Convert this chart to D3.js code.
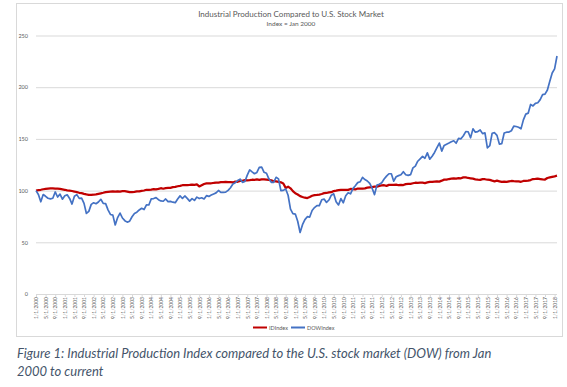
<!DOCTYPE html>
<html>
<head>
<meta charset="utf-8">
<script src="https://d3js.org/d3.v7.min.js"></script>
<style>
body { margin: 0; background: #fff; }
text { font-family: Lato, "Open Sans", sans-serif; }
</style>
</head>
<body>
<div id="chart"></div>
<script>
// monthly values, Jan 2000 .. Feb 2018, Jan 2000 = 100
var firstMonth = new Date(2000, 0, 1)

var ipIndex = [
    100, 100.4, 100.8, 101.3, 101.6, 101.9, 102.1, 102.2, 102.0, 101.8, 101.6, 101.2,
    100.8, 100.3, 100.0, 99.6, 99.1, 98.5, 97.9, 97.5, 96.8, 96.3, 95.9, 95.8,
    96.0, 96.4, 96.9, 97.4, 97.9, 98.6, 98.8, 99.0, 99.2, 99.0, 99.3, 99.0,
    99.4, 99.4, 99.1, 98.6, 98.6, 98.8, 99.2, 99.2, 99.8, 100.1, 100.8, 100.8,
    101.0, 101.4, 101.2, 101.6, 102.3, 101.8, 102.4, 102.6, 102.7, 103.3, 103.6, 104.2,
    104.6, 105.2, 105.2, 105.3, 105.5, 105.8, 105.6, 106.0, 104.0, 105.2, 106.4, 107.0,
    107.0, 107.1, 107.4, 107.8, 107.8, 108.2, 108.1, 108.4, 108.2, 108.1, 107.9, 108.8,
    108.5, 109.3, 109.5, 110.2, 110.0, 110.2, 110.5, 110.4, 110.8, 110.3, 110.8, 110.9,
    110.6, 110.3, 110.0, 109.1, 108.9, 108.5, 108.0, 106.8, 102.6, 103.8, 102.2, 99.5,
    97.4, 96.2, 94.6, 93.8, 93.1, 92.8, 93.8, 95.0, 95.6, 95.8, 96.2, 96.7,
    97.5, 97.7, 98.2, 98.5, 99.6, 99.9, 100.4, 100.6, 100.8, 100.6, 100.7, 101.6,
    101.5, 101.1, 102.0, 101.8, 101.9, 102.2, 102.8, 103.2, 103.4, 103.9, 103.8, 104.6,
    105.0, 105.2, 104.6, 105.5, 105.6, 105.6, 105.8, 105.2, 105.6, 105.4, 106.3, 106.6,
    106.6, 107.1, 107.6, 107.5, 107.6, 107.7, 107.3, 107.9, 108.5, 108.4, 108.7, 108.9,
    108.7, 109.6, 110.6, 110.7, 111.2, 111.6, 111.8, 111.5, 112.0, 111.9, 112.8, 112.7,
    112.2, 111.9, 111.5, 110.9, 110.6, 110.4, 111.1, 111.0, 110.5, 110.3, 109.6, 109.0,
    109.6, 109.0, 108.4, 108.7, 108.4, 108.9, 109.3, 109.1, 109.0, 109.0, 108.5, 109.3,
    109.5, 109.6, 110.2, 111.2, 111.3, 111.5, 111.2, 110.9, 110.7, 112.2, 112.8, 113.3,
    113.8, 114.4
]

var dowIndex = [
    100, 96.3, 89.2, 96.2, 94.5, 92.6, 92.0, 92.6, 98.7, 93.8, 96.6, 91.7,
    95.0, 95.9, 92.4, 87.0, 94.5, 96.1, 92.5, 92.7, 87.6, 77.9, 79.9, 86.7,
    88.2, 87.3, 89.0, 91.6, 87.6, 87.4, 81.4, 76.9, 76.3, 66.8, 73.9, 78.3,
    73.5, 70.9, 69.5, 70.4, 74.7, 77.9, 79.1, 81.3, 82.9, 81.7, 86.3, 86.1,
    92.0, 92.3, 93.2, 91.2, 90.0, 89.7, 91.9, 89.3, 89.6, 88.8, 88.3, 91.8,
    94.9, 92.4, 94.8, 92.5, 89.8, 92.2, 90.5, 93.7, 92.3, 93.1, 91.9, 95.1,
    94.4, 95.7, 96.8, 97.8, 100.1, 98.3, 98.2, 98.5, 100.2, 102.8, 106.4, 107.6,
    109.7, 111.1, 108.0, 108.8, 115.0, 120.0, 118.1, 116.3, 117.6, 122.4, 122.7, 117.7,
    116.8, 111.4, 108.0, 108.0, 112.9, 111.3, 99.9, 100.2, 101.6, 95.5, 82.1, 77.7,
    77.3, 70.4, 59.5, 67.0, 71.9, 74.8, 74.4, 80.8, 83.6, 85.5, 85.5, 91.1,
    91.8, 88.6, 90.9, 95.6, 96.9, 89.3, 86.1, 92.2, 88.2, 95.0, 97.9, 96.9,
    101.9, 104.7, 107.7, 108.5, 112.8, 110.7, 109.3, 106.9, 102.3, 96.1, 105.3, 106.1,
    107.6, 111.2, 114.0, 116.3, 116.3, 109.1, 113.4, 114.5, 115.3, 118.3, 115.3, 114.7,
    115.4, 122.0, 123.7, 128.4, 130.7, 133.1, 131.3, 136.5, 130.4, 133.2, 136.9, 141.6,
    146.0, 138.2, 143.7, 144.9, 146.0, 147.2, 148.2, 145.8, 150.5, 150.1, 153.1, 157.0,
    156.9, 151.1, 159.7, 156.5, 157.1, 158.6, 155.1, 155.8, 141.4, 143.4, 155.5, 156.0,
    153.4, 145.0, 145.4, 155.7, 156.5, 156.6, 157.9, 162.3, 162.0, 161.2, 159.7, 168.4,
    174.0, 174.9, 183.3, 181.9, 184.4, 185.0, 188.0, 192.8, 193.3, 197.3, 205.8, 213.7,
    217.7, 230.2
]

var yTicks = [0, 50, 100, 150, 200, 250]
var seriesNames = ["IDIndex", "DOWIndex"]
var seriesColors = ["#c00000", "#4472c4"]

var fmt = d3.timeFormat("%-m/%-d/%Y")
var months = d3.timeMonth.range(firstMonth, d3.timeMonth.offset(firstMonth, dowIndex.length)).map(fmt)
var labelMonths = months.filter((d, i) => i % 4 == 0)

var svg = d3.select("#chart")
    .append("svg")
    .attr("width", 567)
    .attr("height", 387)

svg.append("rect")
    .attr("x", 16.5)
    .attr("y", 3.5)
    .attr("width", 546)
    .attr("height", 333)
    .attr("fill", "#fff")
    .attr("stroke", "#d9d9d9")

var x = d3.scalePoint().domain(months).range([36, 557])
var y = d3.scaleLinear().domain([0, 250]).range([294, 35.5])

svg.append("text")
    .text("Industrial Production Compared to U.S. Stock Market")
    .attr("x", 291)
    .attr("y", 17)
    .attr("text-anchor", "middle")
    .style("font-size", "8px")
    .style("fill", "#595959")

svg.append("text")
    .text("Index = Jan 2000")
    .attr("x", 291)
    .attr("y", 26)
    .attr("text-anchor", "middle")
    .style("font-size", "6.5px")
    .style("fill", "#595959")

var yAxis = svg.append("g")
    .attr("transform", "translate(36,0)")
    .call(d3.axisLeft(y).tickValues(yTicks).tickSize(-521).tickPadding(8))
yAxis.select(".domain").remove()
yAxis.selectAll("line").attr("stroke", "#d9d9d9")
yAxis.selectAll("text")
    .style("font-size", "5.5px")
    .style("font-family", "Lato, sans-serif")
    .style("fill", "#595959")

var xAxis = svg.append("g")
    .attr("transform", "translate(0,294)")
    .call(d3.axisBottom(x).tickValues(labelMonths).tickSize(3))
xAxis.select(".domain").remove()
xAxis.selectAll("line").attr("stroke", "#d9d9d9")
xAxis.selectAll("text")
    .attr("transform", "rotate(-90)")
    .attr("x", -3)
    .attr("y", 0)
    .attr("dy", "0.35em")
    .attr("text-anchor", "end")
    .style("font-size", "5px")
    .style("font-family", "Lato, sans-serif")
    .style("fill", "#595959")

var line = d3.line()
    .x((d, i) => x(months[i]))
    .y(d => y(d))

var series = [ipIndex, dowIndex]
for (let s = 0; s < series.length; s++) {
    svg.append("path")
        .datum(series[s])
        .attr("d", line)
        .attr("fill", "none")
        .attr("stroke", seriesColors[s])
        .attr("stroke-width", s == 0 ? 2.25 : 1.7)
        .attr("stroke-linejoin", "round")
}

// legend
var legendX = [253, 291]
for (let s = 0; s < seriesNames.length; s++) {
    svg.append("line")
        .attr("x1", legendX[s])
        .attr("x2", legendX[s] + 14)
        .attr("y1", 327.5)
        .attr("y2", 327.5)
        .attr("stroke", seriesColors[s])
        .attr("stroke-width", 2)
    svg.append("text")
        .text(seriesNames[s])
        .attr("x", legendX[s] + 16)
        .attr("y", 329.5)
        .style("font-size", "5.5px")
        .style("fill", "#595959")
}

svg.append("text")
    .text("Figure 1: Industrial Production Index compared to the U.S. stock market (DOW) from Jan")
    .attr("x", 17)
    .attr("y", 358)
    .style("font-size", "13px")
    .style("font-style", "italic")
    .style("fill", "#44546a")

svg.append("text")
    .text("2000 to current")
    .attr("x", 17)
    .attr("y", 376)
    .style("font-size", "13px")
    .style("font-style", "italic")
    .style("fill", "#44546a")
</script>
</body>
</html>
